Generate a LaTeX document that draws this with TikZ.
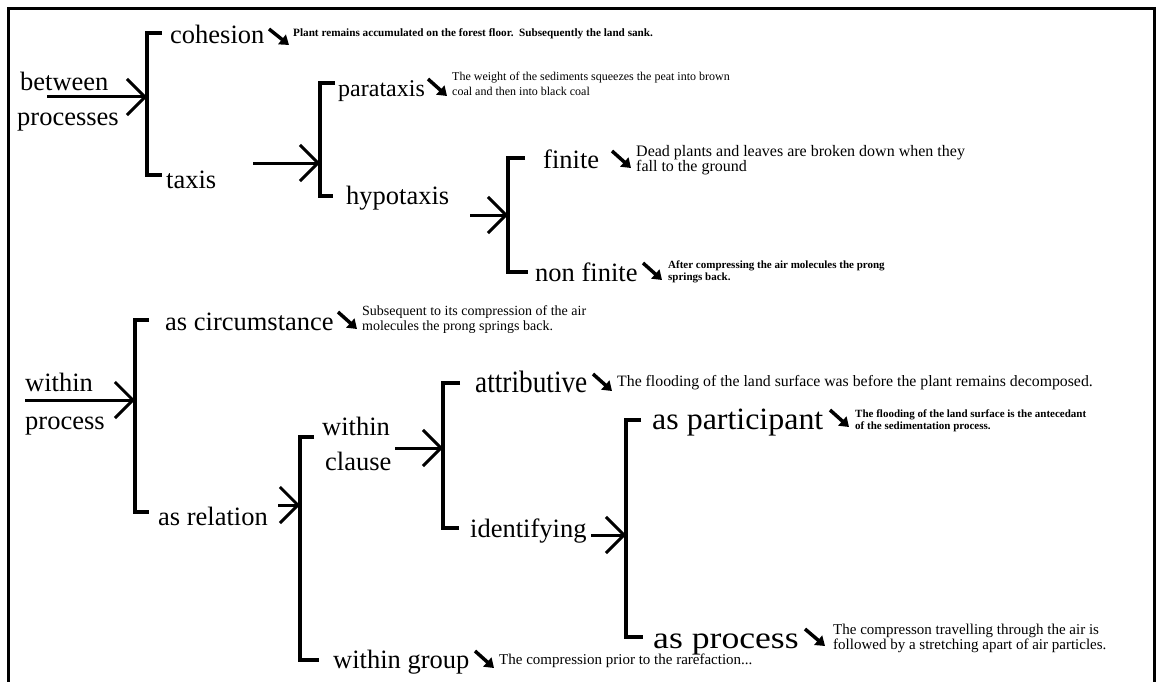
\documentclass[tikz,border=0pt]{standalone}
\usepackage{fontspec}
\setmainfont{Liberation Serif}
\usetikzlibrary{arrows.meta}

\tikzset{
  lbl/.style={anchor=base west, inner sep=0pt, font=\fontsize{26.5}{26.5}\selectfont},
  tall/.style={anchor=base west, inner sep=0pt, font=\fontsize{31}{31}\selectfont},
  note/.style={anchor=west, inner sep=0pt, align=left},
  brk/.style={line width=3.5pt},
  feed/.style={line width=3pt, -{Straight Barb[length=18pt,width=36pt]}},
  hint/.style={line width=3.5pt, -{Triangle[length=9pt,width=12pt]}},
}

\begin{document}
\begin{tikzpicture}[x=1pt,y=-1pt]
\useasboundingbox (0,0) rectangle (1161,682);

% open frame
\draw[line width=3pt] (8,682) -- (8,9) -- (1154,9) -- (1154,682);

% ---------- between processes ----------
\node[lbl] (between) at (20,91) {between};
\node[lbl] (processes) at (17,125) {processes};
\coordinate (a1s) at (47,97);
\coordinate (b1t) at (147,33); \coordinate (b1m) at (147,97); \coordinate (b1b) at (147,175);
\draw[brk] (b1t) ++(15,0) -- (b1t) -- (b1b) -- ++(15,0);
\draw[feed] (a1s) -- (b1m);

\node[lbl] (cohesion) at (170,44) {cohesion};
\coordinate (h1a) at (269,29); \coordinate (h1b) at (289,45);
\draw[hint] (h1a) -- (h1b);
\node[note, font=\bfseries\fontsize{11.2}{12}\selectfont] (t1) at (293,34)
  {Plant remains accumulated on the forest floor.\ \ Subsequently the land sank.};

\node[lbl] (taxis) at (166,188) {taxis};
\coordinate (a2s) at (253,163);
\coordinate (b2t) at (320,83); \coordinate (b2m) at (320,163); \coordinate (b2b) at (320,196);
\draw[brk] (b2t) ++(15,0) -- (b2t) -- (b2b) -- ++(13,0);
\draw[feed] (a2s) -- (b2m);

\node[lbl, font=\fontsize{24}{24}\selectfont] (parataxis) at (338,97) {parataxis};
\coordinate (h2a) at (428,79); \coordinate (h2b) at (447,96);
\draw[hint] (h2a) -- (h2b);
\node[note, font=\fontsize{12}{15}\selectfont] (t2) at (452,84)
  {The weight of the sediments squeezes the peat into brown\\coal and then into black coal};

\node[lbl] (hypotaxis) at (346,204) {hypotaxis};
\coordinate (a3s) at (470,215);
\coordinate (b3t) at (508,158); \coordinate (b3m) at (508,215); \coordinate (b3b) at (508,272);
\draw[brk] (b3t) ++(17,0) -- (b3t) -- (b3b) -- ++(20,0);
\draw[feed] (a3s) -- (b3m);

\node[lbl] (finite) at (543,168) {finite};
\coordinate (h3a) at (612,151); \coordinate (h3b) at (631,168);
\draw[hint] (h3a) -- (h3b);
\node[note, font=\fontsize{16}{15}\selectfont] (t3) at (636,160)
  {Dead plants and leaves are broken down when they\\fall to the ground};

\node[lbl] (nonfinite) at (535,281) {non finite};
\coordinate (h4a) at (643,263); \coordinate (h4b) at (662,280);
\draw[hint] (h4a) -- (h4b);
\node[note, font=\bfseries\fontsize{11}{12.5}\selectfont] (t4) at (668,272)
  {After compressing the air molecules the prong\\springs back.};

% ---------- within process ----------
\node[lbl] (within) at (25,391) {within};
\node[lbl] (process) at (25,429) {process};
\coordinate (a4s) at (25,400);
\coordinate (b4t) at (135,320); \coordinate (b4m) at (135,400); \coordinate (b4b) at (135,512);
\draw[brk] (b4t) ++(14,0) -- (b4t) -- (b4b) -- ++(14,0);
\draw[feed] (a4s) -- (b4m);

\node[lbl] (circ) at (165,330) {as circumstance};
\coordinate (h5a) at (338,312); \coordinate (h5b) at (357,329);
\draw[hint] (h5a) -- (h5b);
\node[note, font=\fontsize{14}{15}\selectfont] (t5) at (362,320)
  {Subsequent to its compression of the air\\molecules the prong springs back.};

\node[lbl] (relation) at (158,525) {as relation};
\coordinate (a5s) at (278,505);
\coordinate (b5t) at (300,437); \coordinate (b5m) at (300,505); \coordinate (b5b) at (300,660);
\draw[brk] (b5t) ++(14,0) -- (b5t) -- (b5b) -- ++(19,0);
\draw[feed] (a5s) -- (b5m);

\node[lbl] (within2) at (322,435) {within};
\node[lbl] (clause) at (325,470) {clause};
\coordinate (a6s) at (395,448);
\coordinate (b6t) at (443,383); \coordinate (b6m) at (443,448); \coordinate (b6b) at (443,528);
\draw[brk] (b6t) ++(17,0) -- (b6t) -- (b6b) -- ++(16,0);
\draw[feed] (a6s) -- (b6m);

\node[tall] (attributive) at (475,392) {\scalebox{0.88}[1]{attributive}};
\coordinate (h6a) at (593,374); \coordinate (h6b) at (612,391);
\draw[hint] (h6a) -- (h6b);
\node[note, font=\fontsize{15.8}{16}\selectfont] (t6) at (617,383)
  {The flooding of the land surface was before the plant remains decomposed.};

\node[lbl] (identifying) at (470,537) {identifying};
\coordinate (a7s) at (591,535);
\coordinate (b7t) at (626,420); \coordinate (b7m) at (626,535); \coordinate (b7b) at (626,637);
\draw[brk] (b7t) ++(15,0) -- (b7t) -- (b7b) -- ++(17,0);
\draw[feed] (a7s) -- (b7m);

\node[tall] (participant) at (652,429) {\scalebox{1.03}[1]{as participant}};
\coordinate (h7a) at (830,410); \coordinate (h7b) at (849,427);
\draw[hint] (h7a) -- (h7b);
\node[note, font=\bfseries\fontsize{11}{12}\selectfont] (t9) at (855,421)
  {The flooding of the land surface is the antecedant\\of the sedimentation process.};

\node[tall] (asprocess) at (653,648) {\scalebox{1.15}[1]{as process}};
\coordinate (h8a) at (805,629); \coordinate (h8b) at (825,646);
\draw[hint] (h8a) -- (h8b);
\node[note, font=\fontsize{15}{15}\selectfont] (t7) at (833,638)
  {The compresson travelling through the air is\\followed by a stretching apart of air particles.};

\node[lbl] (group) at (333,668) {within group};
\coordinate (h9a) at (475,651); \coordinate (h9b) at (494,668);
\draw[hint] (h9a) -- (h9b);
\node[note, font=\fontsize{15}{15}\selectfont] (t8) at (499,661)
  {The compression prior to the rarefaction...};
\end{tikzpicture}
\end{document}
